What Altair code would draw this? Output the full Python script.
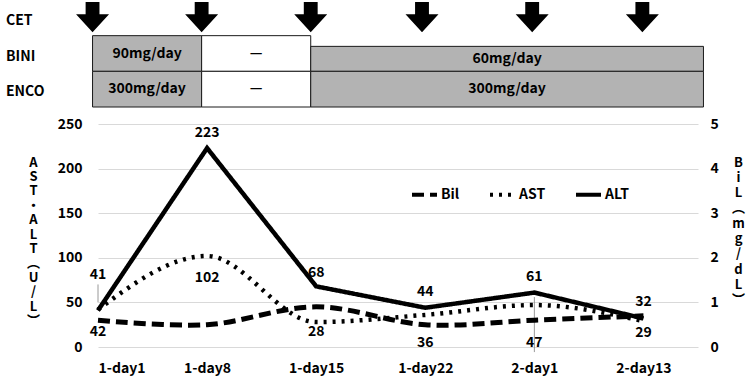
import altair as alt
import pandas as pd

# ---------------- data ----------------
categories = ["1-day1", "1-day8", "1-day15", "1-day22", "2-day1", "2-day13"]
alt_values = [41, 223, 68, 44, 61, 32]
ast_values = [42, 102, 28, 36, 47, 29]
bil_values = [0.6, 0.5, 0.9, 0.5, 0.6, 0.7]

# hand-placed data-label nudges (pixels) as in the original
alt_label_dy = [-35, -15, -13, -16, -16, -16]
ast_label_dy = [22, 22, 10, 28, 38, 12]

# treatment table (x in category-index units)
rows = ["CET", "BINI", "ENCO"]
cet_pos = [-0.05, 0.95, 1.95, 2.97, 3.98, 4.99]
period_start = [-0.05, 0.95, 1.95]
period_end = [0.95, 1.95, 5.55]
bini_text = ["90mg/day", "—", "60mg/day"]
enco_text = ["300mg/day", "—", "300mg/day"]
period_fill = ["#b3b3b3", "#ffffff", "#b3b3b3"]
bini_row_top = [1.0, 1.0, 1.3]

# ---------------- tables ----------------
idx = list(range(len(categories)))
long_rows = []
for i in idx:
    long_rows.append({"i": i, "series": "ALT", "value": alt_values[i], "dy": alt_label_dy[i]})
    long_rows.append({"i": i, "series": "AST", "value": ast_values[i], "dy": ast_label_dy[i]})
long_df = pd.DataFrame(long_rows)
bil_df = pd.DataFrame({"i": idx, "Bil": bil_values, "series": ["Bil"] * len(idx)})

box_rows = []
for k in range(len(period_start)):
    box_rows.append({"start": period_start[k], "end": period_end[k], "y0": bini_row_top[k], "y1": 2.0,
                     "label": bini_text[k], "fill": period_fill[k]})
    box_rows.append({"start": period_start[k], "end": period_end[k], "y0": 2.0, "y1": 3.0,
                     "label": enco_text[k], "fill": period_fill[k]})
box_df = pd.DataFrame(box_rows)
arrow_df = pd.DataFrame({"pos": cet_pos, "row": [0.48] * len(cet_pos)})
rowlab_df = pd.DataFrame({"name": rows, "row": [0.5, 1.5, 2.5]})

FONT = "Noto Sans CJK JP"
FW = "bold"
PLOT_H = 223
YMAX = 250
PX = YMAX / PLOT_H  # data units per pixel on the left scale

# ---------------- scales / axes ----------------
xscale = alt.Scale(domain=[0, 5.5], nice=False, zero=False)
label_expr = "[" + ",".join("'%s'" % c for c in categories) + "][datum.value]"
xaxis = alt.Axis(values=idx, labelExpr=label_expr, grid=False, ticks=False, domain=False,
                 labelPadding=14, labelFontSize=14, labelFont=FONT, labelFontWeight=FW,
                 labelColor="black", title=None)

left_axis = alt.Axis(values=[0, 50, 100, 150, 200, 250], grid=True, gridColor="#d9d9d9",
                     ticks=False, domain=False, labelPadding=16, labelFontSize=14,
                     labelFont=FONT, labelFontWeight=FW, labelColor="black",
                     title=list("AST・ALT︵U/L︶"), titleAngle=0, titleX=-65, titleY=32,
                     titleAlign="center", titleBaseline="top", titleLineHeight=14.4,
                     titleFontSize=13, titleFont=FONT, titleFontWeight=FW, titleColor="black")
right_axis = alt.Axis(values=[0, 1, 2, 3, 4, 5], orient="right", grid=False, ticks=False,
                      domain=False, labelPadding=12, labelFontSize=14, labelFont=FONT,
                      labelFontWeight=FW, labelColor="black",
                      title=list("BiL︵mg/dL︶"), titleAngle=0, titleX=40, titleY=32,
                      titleAlign="center", titleBaseline="top", titleLineHeight=15.3,
                      titleFontSize=13, titleFont=FONT, titleFontWeight=FW, titleColor="black")

lscale = alt.Scale(domain=[0, YMAX], nice=False)
yleft = alt.Y("value:Q", scale=lscale, axis=left_axis)
X = alt.X("i:Q", scale=xscale, axis=xaxis)

dash_scale = alt.Scale(domain=["Bil", "AST", "ALT"], range=[[12, 6], [3, 6], [1, 0]])
legend = alt.Legend(orient="none", legendX=312, legendY=56, direction="horizontal", title=None,
                    symbolType="stroke", symbolSize=625, symbolStrokeWidth=4,
                    symbolStrokeColor="black", labelFont=FONT, labelFontSize=14,
                    labelFontWeight=FW, labelColor="black", labelOffset=2, columnPadding=22)
SD = alt.StrokeDash("series:N", scale=dash_scale, legend=legend)

# ---------------- left (AST / ALT) ----------------
base_l = alt.Chart(long_df)
alt_line = base_l.transform_filter("datum.series == 'ALT'").mark_line(
    color="black", strokeWidth=4.5, interpolate="linear").encode(x=X, y=yleft, strokeDash=SD)
ast_line = base_l.transform_filter("datum.series == 'AST'").mark_line(
    color="black", strokeWidth=4.5, interpolate="monotone").encode(x=X, y=yleft, strokeDash=SD)
labels = base_l.transform_calculate(
    ly="datum.value - datum.dy * %f" % PX).mark_text(
    font=FONT, fontSize=14, fontWeight=FW, color="black", baseline="middle").encode(
    x=X, y=alt.Y("ly:Q", scale=lscale, axis=left_axis), text="value:Q")
leaders = base_l.transform_filter("abs(datum.dy) > 30").transform_calculate(
    ya="datum.value + 8 * %f" % PX,
    yb="datum.value - datum.dy * %f - 9 * %f" % (PX, PX)).mark_rule(
    color="#7f7f7f", strokeWidth=0.8).encode(
    x=X, y=alt.Y("ya:Q", scale=lscale, axis=left_axis), y2="yb:Q")
left_layer = alt.layer(alt_line, ast_line, leaders, labels)

# ---------------- right (Bil) ----------------
bil_line = alt.Chart(bil_df).mark_line(color="black", strokeWidth=5, interpolate="cardinal").encode(
    x=X,
    y=alt.Y("Bil:Q", scale=alt.Scale(domain=[0, 5], nice=False), axis=right_axis),
    strokeDash=SD)

# ---------------- top treatment table ----------------
ytop = alt.Scale(domain=[0, 3], range=[-124, -17])
boxes = alt.Chart(box_df).mark_rect(stroke="#1a1a1a", strokeWidth=1).encode(
    x=alt.X("start:Q", scale=xscale, axis=xaxis), x2="end:Q",
    y=alt.Y("y0:Q", scale=ytop, axis=None), y2="y1:Q",
    fill=alt.Fill("fill:N", scale=None))
box_text = alt.Chart(box_df).transform_calculate(
    mid="(datum.start + datum.end) / 2", ym="(datum.y0 + datum.y1) / 2").mark_text(
    font=FONT, fontSize=14, fontWeight=FW, color="black", baseline="middle").encode(
    x=alt.X("mid:Q", scale=xscale, axis=xaxis),
    y=alt.Y("ym:Q", scale=ytop, axis=None), text="label:N")
arrow_path = "M-0.42,-0.91L0.42,-0.91L0.42,-0.18L1,-0.18L0,0.91L-1,-0.18L-0.42,-0.18Z"
arrows = alt.Chart(arrow_df).mark_point(shape=arrow_path, filled=True, color="black",
                                        size=1089, opacity=1).encode(
    x=alt.X("pos:Q", scale=xscale, axis=xaxis),
    y=alt.Y("row:Q", scale=ytop, axis=None))
row_labels = alt.Chart(rowlab_df).mark_text(font=FONT, fontSize=14, fontWeight=FW, color="black",
                                            align="left", baseline="middle", dy=3).encode(
    x=alt.value(-92), y=alt.Y("row:Q", scale=ytop, axis=None), text="name:N")
top_layer = alt.layer(boxes, box_text, arrows, row_labels)

chart = alt.layer(left_layer, bil_line, top_layer).resolve_scale(y="independent").properties(
    width=600, height=PLOT_H,
    autosize=alt.AutoSizeParams(type="none"),
    padding={"left": 98, "top": 124, "right": 52, "bottom": 35},
    background="white",
).configure_view(stroke=None)

chart.save("out.html", embed_options={"renderer": "svg", "actions": False})
